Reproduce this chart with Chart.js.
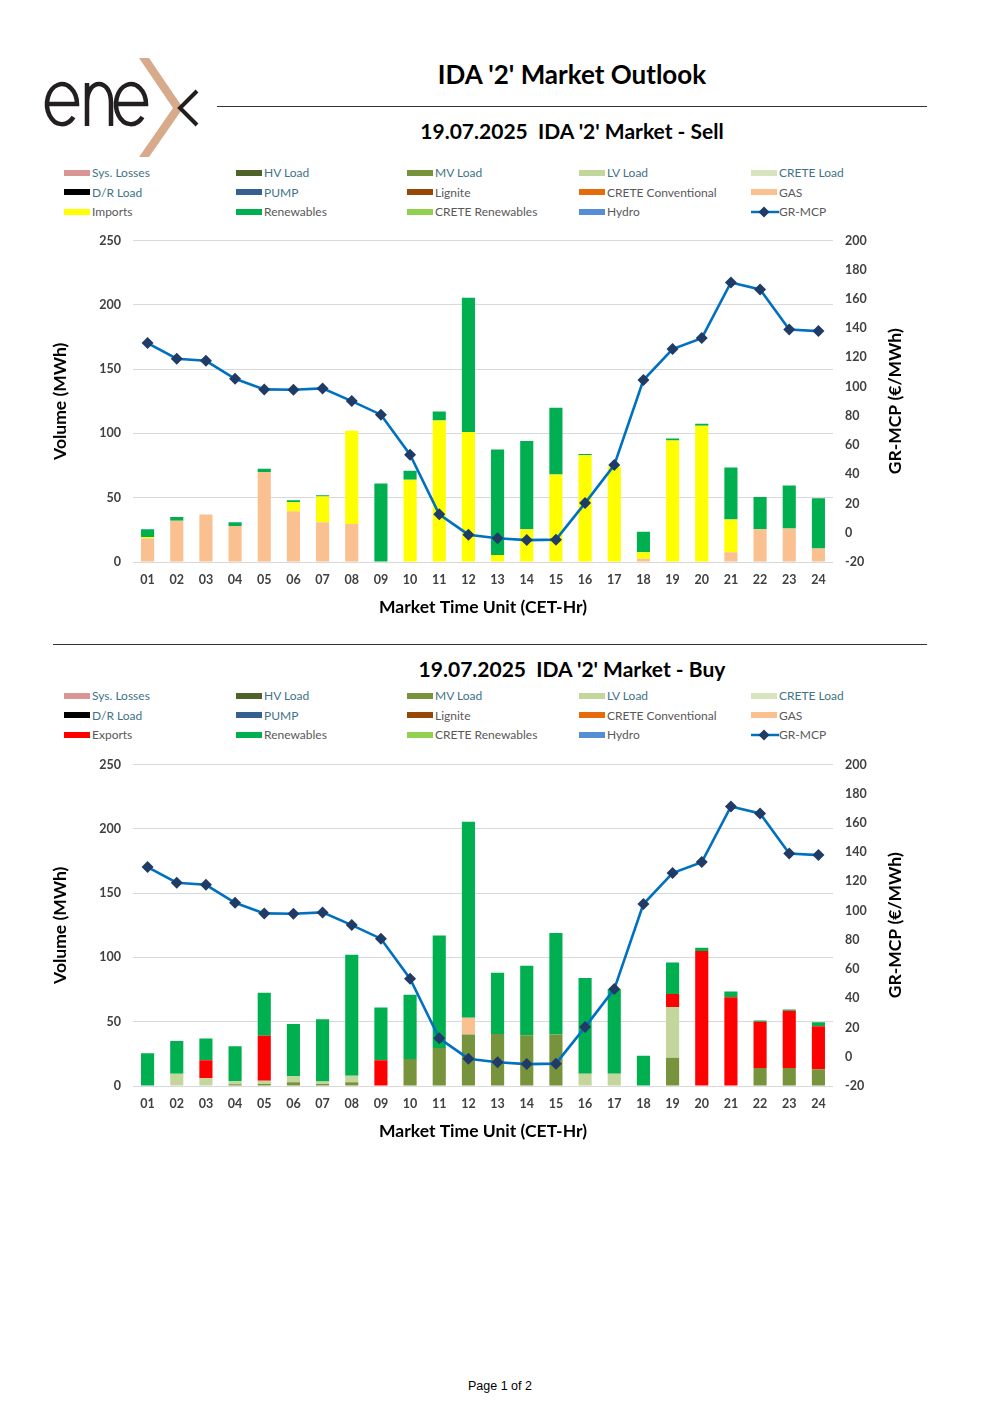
<!DOCTYPE html>
<html>
<head>
<meta charset="utf-8">
<script src="https://cdn.jsdelivr.net/npm/chart.js@4.4.1/dist/chart.umd.min.js"></script>
<style>
  html,body{margin:0;padding:0;background:#fff;}
  body{width:1000px;height:1415px;position:relative;font-family:Lato,"DejaVu Sans",sans-serif;overflow:hidden;}
  .abs{position:absolute;}
  .main-title{left:217px;width:710px;top:58px;text-align:center;font-weight:700;font-size:26px;color:#000;}
  .sub-title{left:217px;width:710px;text-align:center;font-weight:700;font-size:21px;color:#000;}
  .hr{height:0;border-top:1.3px solid #333;}
  .leg{font-size:12px;height:16px;line-height:16px;white-space:nowrap;}
  .sw{display:inline-block;width:26px;height:6px;vertical-align:middle;margin-right:2px;position:relative;top:-1px;}
  .chartbox{left:40px;width:880px;height:404px;}
  .footer{left:0;width:1000px;top:1379px;text-align:center;font-family:"Liberation Sans",Arial,sans-serif;font-size:12.5px;color:#000;}
</style>
</head>
<body>

<!-- logo -->
<svg class="abs" style="left:0;top:0" width="220" height="170" viewBox="0 0 220 170">
  <g fill="none" stroke="#231F20" stroke-width="4.5" stroke-linecap="butt">
    <path d="M48,104 L77,104 A15,20 0 1 0 73.5,117"/>
    <path d="M87,83 L87,126 M87,103 C87,90 93,84 99,84 C105,84 111,90 111,103 L111,126"/>
    <path d="M112,104 L141,104 A15,20 0 1 0 137.5,117" transform="translate(5,0)"/>
  </g>
  <polygon points="139,58 149,58 183,108 149,157 139,157 173,108" fill="#D7AA8C"/>
  <polyline points="197,91 180,108 197,125" fill="none" stroke="#231F20" stroke-width="4"/>
</svg>

<div class="abs main-title">IDA '2' Market Outlook</div>
<div class="abs hr" style="left:217px;width:710px;top:106px;"></div>
<div class="abs sub-title" style="top:118px;">19.07.2025&nbsp;&nbsp;IDA '2' Market - Sell</div>
<div id="legSell"></div>
<div class="abs chartbox" style="top:221px;"><canvas id="cSell"></canvas></div>

<div class="abs hr" style="left:53px;width:874px;top:644px;"></div>
<div class="abs sub-title" style="top:656px;">19.07.2025&nbsp;&nbsp;IDA '2' Market - Buy</div>
<div id="legBuy"></div>
<div class="abs chartbox" style="top:745px;"><canvas id="cBuy"></canvas></div>

<div class="abs footer">Page 1 of 2</div>

<script>
// ---------------- DATA ----------------
const hours = ['01','02','03','04','05','06','07','08','09','10','11','12','13','14','15','16','17','18','19','20','21','22','23','24'];

// Sell side (MWh)
const sellGas        = [18.5,32,37,28,70,39.5,31,29.5,0,0,0,0,0,0,0,0,0,2.5,0,0,7.5,25.5,26,10.5];
const sellImports    = [1,0,0,0,0,7,20,72.5,0,64,110,101,5.5,25.5,68,83,74,5,94.5,106,25.5,0,0,0];
const sellRenewables = [6,3,0,3,2.5,1.5,1,0,61,7,7,104.5,82,68.5,52,1,0,16,1.5,1.5,40.5,25,33.5,39];

// Buy side (MWh)
const buyMvLoad     = [0,0,0,1.3,1.5,3,1.5,3,0,21,29.5,40,40.5,39.5,40,0,0,0,22,0,0,14,14,13];
const buyLvLoad     = [0,9.5,6,2.6,2.5,4.7,2,5,0,0,0,0,0,0,0,9.5,9.5,0,39.5,0,0,0,0,0];
const buyGas        = [0,0,0,0,0,0,0,0,0,0,0,13,0,0,0,0,0,0,0,0,0,0,0,0];
const buyExports    = [0,0,14,0,35,0,0,0,20,0,0,0,0,0,0,0,0,0,10,105,69,36,44.5,33.5];
const buyRenewables = [25.5,25.5,17,27,33.5,40.6,48.5,94,41,50,87.5,152.5,47.5,54,79,74.5,66,23.5,24.5,2.5,4.5,1,1,3];

// GR-MCP (EUR/MWh)
const grMcp = [129.8,119.1,117.7,105.4,98.1,97.9,98.8,90.1,80.8,53.4,12.6,-1.3,-3.8,-5.0,-4.7,20.3,46.3,104.5,125.7,133.2,171.3,166.5,139.1,138.0];

// Axis ticks
const volumeTicks = [0,50,100,150,200,250];
const priceTicks  = [-20,0,20,40,60,80,100,120,140,160,180,200];

// Legend entries
const legendNamesSell = ['Sys. Losses','HV Load','MV Load','LV Load','CRETE Load','D/R Load','PUMP','Lignite','CRETE Conventional','GAS','Imports','Renewables','CRETE Renewables','Hydro','GR-MCP'];
const legendNamesBuy  = ['Sys. Losses','HV Load','MV Load','LV Load','CRETE Load','D/R Load','PUMP','Lignite','CRETE Conventional','GAS','Exports','Renewables','CRETE Renewables','Hydro','GR-MCP'];

// ---------------- STYLES ----------------
const COLORS = {
  'Sys. Losses':'#DA9694','HV Load':'#4F6228','MV Load':'#77933C','LV Load':'#C3D69B','CRETE Load':'#D7E4BD',
  'D/R Load':'#000000','PUMP':'#376092','Lignite':'#974706','CRETE Conventional':'#E46C0A','GAS':'#FAC090',
  'Imports':'#FFFF00','Exports':'#FF0000','Renewables':'#00B050','CRETE Renewables':'#92D050','Hydro':'#558ED5','GR-MCP':'#0070C0'
};
const TEAL_NAMES = ['Sys. Losses','HV Load','MV Load','LV Load','CRETE Load','D/R Load','PUMP'];
const LINE_COLOR = '#0070C0';
const MARKER_COLOR = '#1F3B66';
const FONT_FAMILY = 'Lato, "DejaVu Sans", sans-serif';

function buildLegend(id, names, top) {
  const colX = [64,236,407,579,751];
  const rowY = [top, top+19.5, top+39];
  const host = document.getElementById(id);
  names.forEach((n,i)=>{
    const d = document.createElement('div');
    d.className = 'abs leg';
    d.style.left = colX[i%5]+'px';
    d.style.top = (rowY[Math.floor(i/5)]-8)+'px';
    d.style.color = TEAL_NAMES.includes(n) ? '#3F7386' : '#595959';
    if (n === 'GR-MCP') {
      d.innerHTML = '<svg width="28" height="12" style="vertical-align:middle;position:relative;top:-1px"><line x1="0" y1="6" x2="28" y2="6" stroke="'+LINE_COLOR+'" stroke-width="2.5"/><polygon points="13,0.5 18.5,6 13,11.5 7.5,6" fill="'+MARKER_COLOR+'"/></svg>' + n;
    } else {
      d.innerHTML = '<span class="sw" style="background:'+COLORS[n]+'"></span>' + n;
    }
    host.appendChild(d);
  });
}
buildLegend('legSell', legendNamesSell, 173);
buildLegend('legBuy', legendNamesBuy, 696);

const TICK_FONT = {family:FONT_FAMILY, size:12.5, weight:'bold'};
const TITLE_FONT = {family:FONT_FAMILY, size:17.5, weight:'bold'};

// Right-axis title drawn reading bottom-to-top (like the reference)
const rightTitlePlugin = {
  id:'rightTitle',
  afterDraw(chart){
    const s = chart.scales.y1;
    const ctx = chart.ctx;
    ctx.save();
    ctx.translate(s.right - 25, (s.top + s.bottom)/2);
    ctx.rotate(-Math.PI/2);
    ctx.font = 'bold ' + TITLE_FONT.size + 'px ' + FONT_FAMILY;
    ctx.fillStyle = '#000';
    ctx.textAlign = 'center';
    ctx.textBaseline = 'middle';
    ctx.fillText(s.options.title.text, 0, 0);
    ctx.restore();
  }
};

function barSet(label, data) {
  return {type:'bar', label, data, backgroundColor:COLORS[label], borderWidth:0,
          yAxisID:'y', stack:'s', order:2, categoryPercentage:1.0, barPercentage:0.45};
}

function makeChart(canvasId, barDatasets) {
  const datasets = barDatasets.concat([{
    type:'line', label:'GR-MCP', data:grMcp, yAxisID:'y1', order:0,
    borderColor:LINE_COLOR, borderWidth:2.6, tension:0,
    pointStyle:'rectRot', pointRadius:6, pointBackgroundColor:MARKER_COLOR, pointBorderColor:MARKER_COLOR, pointBorderWidth:0
  }]);
  return new Chart(document.getElementById(canvasId), {
    data:{labels:hours, datasets},
    plugins:[rightTitlePlugin],
    options:{
      responsive:true, maintainAspectRatio:false, animation:false,
      layout:{padding:{top:1,left:0,right:0,bottom:7}},
      plugins:{legend:{display:false}, tooltip:{enabled:false}, title:{display:false}},
      scales:{
        x:{
          stacked:true,
          grid:{display:false, drawTicks:false},
          border:{display:false},
          ticks:{font:TICK_FONT, color:'#404040', padding:10, maxRotation:0, autoSkip:false},
          title:{display:true, text:'Market Time Unit (CET-Hr)', font:TITLE_FONT, color:'#000', padding:{top:4,bottom:0}},
          afterFit:(s)=>{ s.height = 56; }
        },
        y:{
          stacked:true, position:'left', min:0, max:250,
          afterBuildTicks:(s)=>{ s.ticks = volumeTicks.map(v=>({value:v})); },
          grid:{color:'#D9D9D9', lineWidth:1, drawTicks:false},
          border:{display:false},
          ticks:{font:TICK_FONT, color:'#404040', padding:12},
          title:{display:true, text:'Volume (MWh)', font:TITLE_FONT, color:'#000', padding:{top:10,bottom:0}},
          afterFit:(s)=>{ s.width = 93; }
        },
        y1:{
          position:'right', min:-20, max:200,
          afterBuildTicks:(s)=>{ s.ticks = priceTicks.map(v=>({value:v})); },
          grid:{display:false, drawTicks:false},
          border:{display:false},
          ticks:{font:TICK_FONT, color:'#404040', padding:12},
          title:{display:false, text:'GR-MCP (€/MWh)', font:TITLE_FONT, color:'#000'},
          afterFit:(s)=>{ s.width = 87; }
        }
      }
    }
  });
}

makeChart('cSell', [
  barSet('GAS', sellGas),
  barSet('Imports', sellImports),
  barSet('Renewables', sellRenewables)
]);

makeChart('cBuy', [
  barSet('MV Load', buyMvLoad),
  barSet('LV Load', buyLvLoad),
  barSet('GAS', buyGas),
  barSet('Exports', buyExports),
  barSet('Renewables', buyRenewables)
]);
</script>
</body>
</html>
